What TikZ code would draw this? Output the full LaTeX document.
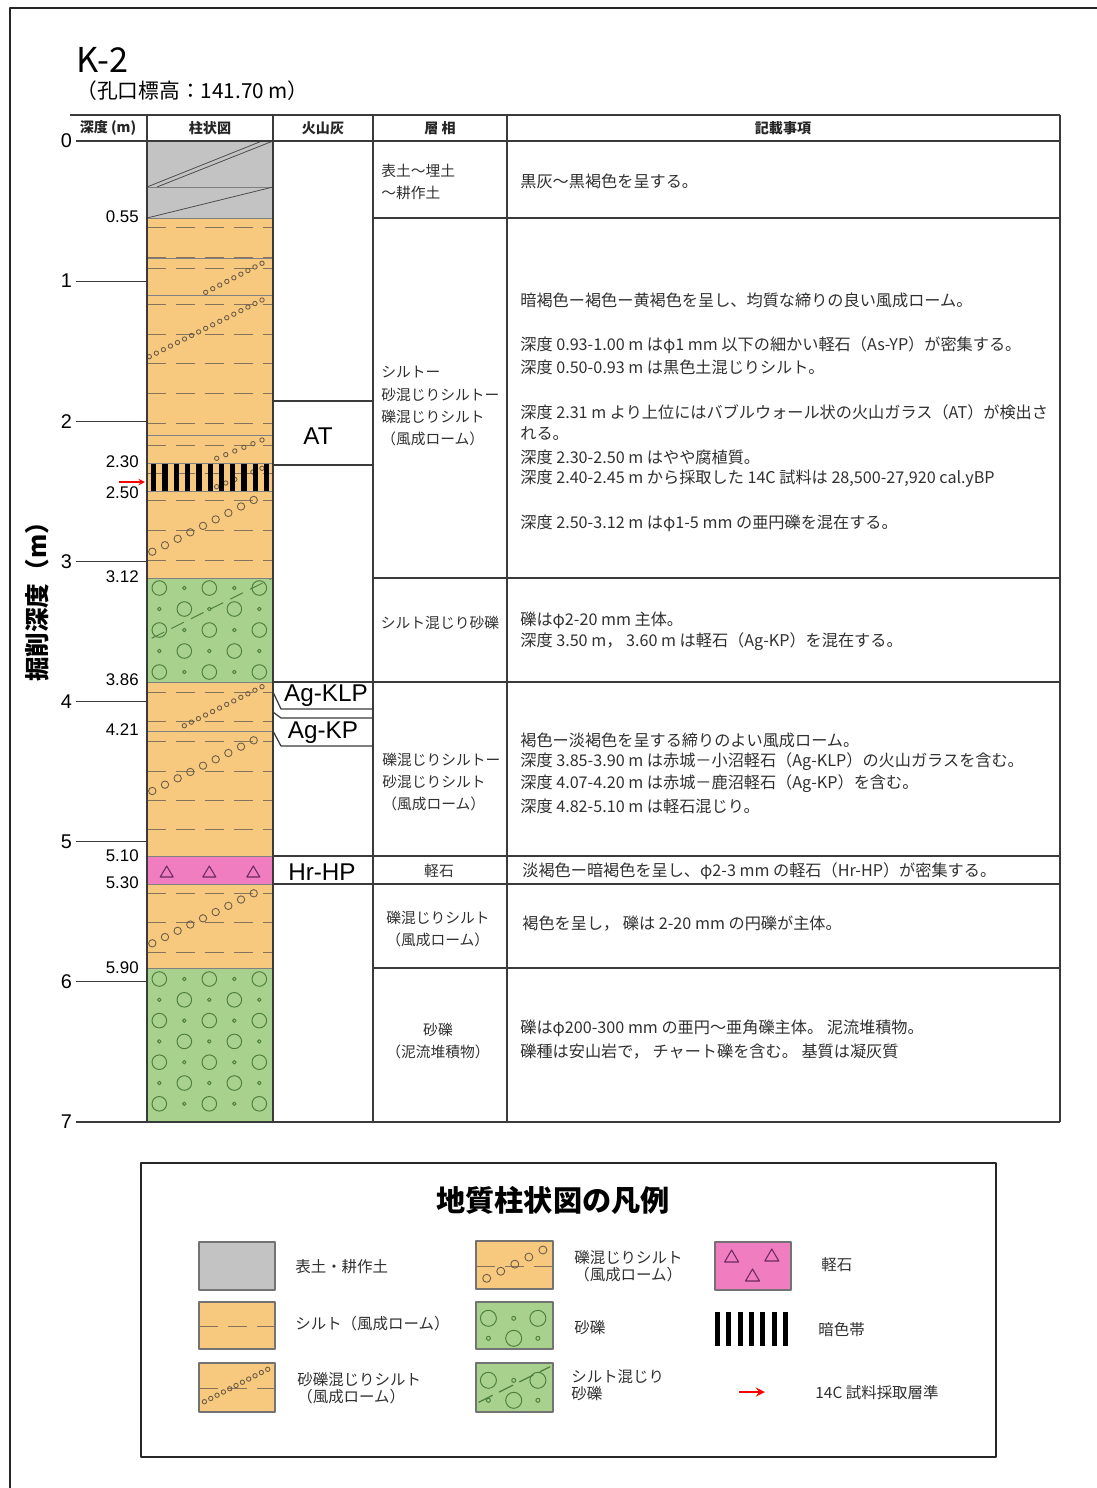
\documentclass[tikz,border=0pt]{standalone}
\usepackage{fontspec}
\setmainfont{Noto Sans CJK JP}
\newfontfamily\arialfont{Liberation Sans}

\definecolor{soilgray}{HTML}{C3C3C3}
\definecolor{loamfill}{HTML}{F7C97E}
\definecolor{gravelfill}{HTML}{A9D18E}
\definecolor{pumicefill}{HTML}{F07DC0}
\definecolor{dashbrown}{HTML}{86735B}
\definecolor{pebblec}{HTML}{6E5C48}
\definecolor{gravelc}{HTML}{4C7F3E}
\definecolor{pumicec}{HTML}{6B2A63}
\definecolor{rulec}{HTML}{3A3A3A}
\definecolor{txtc}{HTML}{303030}

\tikzset{
  rule/.style={draw=rulec, line width=0.7pt},
  bound/.style={draw=black!50, line width=0.5pt},
  loamdash/.style={draw=dashbrown, line width=0.55pt, dash pattern=on 10.8pt off 5.7pt},
  pebble/.style={draw=pebblec, line width=0.5pt},
  stone/.style={draw=gravelc, line width=0.55pt},
  legbox/.style={draw=black!55, line width=0.8pt},
  head/.style={font=\bfseries\fontsize{8}{9}\selectfont, text=black!85},
  facies/.style={anchor=west, inner sep=0pt, text=txtc, font=\fontsize{8.4}{10}\selectfont},
  desc/.style={anchor=west, inner sep=0pt, text=txtc, font=\fontsize{9.2}{10}\selectfont},
  legtext/.style={anchor=west, inner sep=0pt, text=txtc, font=\fontsize{8.8}{10}\selectfont},
  depthlbl/.style={anchor=east, inner sep=0pt, font=\arialfont\fontsize{9.6}{10}\selectfont},
  ticklbl/.style={anchor=east, inner sep=0pt, font=\arialfont\fontsize{11.3}{12}\selectfont},
  tephra/.style={inner sep=0pt, font=\arialfont\fontsize{13.8}{14}\selectfont},
}

% string of pebbles: x1 y1 x2 y2 steps radius
\newcommand\pebblerow[6]{\foreach \i in {0,...,#5}
  \draw[pebble] ({#1+(#3-#1)*\i/#5},{#2+(#4-#2)*\i/#5}) circle[radius=#6];}
% gravel rows: first row y, last row index, row spacing
\newcommand\gravelrows[3]{\foreach \r in {0,...,#2}{
  \pgfmathsetmacro\gy{#1+#3*\r}
  \ifodd\r\relax \def\bigs{184.3,234.3}\def\smalls{159.3,209.3,259.3}
  \else \def\bigs{159.3,209.3,259.3}\def\smalls{184.3,234.3}\fi
  \foreach \gx in \bigs \draw[stone] (\gx,\gy) circle[radius=7.3];
  \foreach \gx in \smalls \draw[stone] (\gx,\gy) circle[radius=1.8];}}

\begin{document}
\begin{tikzpicture}[x=0.02cm, y=-0.02cm, >=stealth, line join=round]
\useasboundingbox (0,0) rectangle (1097,1488);
\draw[line width=1.2pt, draw=black!85] (10,1488) -- (10,8) -- (1097,8);

% title
\node[anchor=west, inner sep=0pt, font=\fontsize{19.5}{20}\selectfont] (bore) at (76,60) {K-2};
\node[anchor=west, inner sep=0pt, font=\fontsize{11.8}{12}\selectfont] (elev) at (76,91) {（孔口標高：141.70 m）};
\node[rotate=90, font=\bfseries\fontsize{14}{15}\selectfont] (ylab) at (37,596) {掘削深度（m）};

% layers of the column
\fill[soilgray] (147,141) rectangle (273,218);
\fill[loamfill] (147,218) rectangle (273,578);
\fill[gravelfill] (147,578) rectangle (273,682);
\fill[loamfill] (147,682) rectangle (273,856);
\fill[pumicefill] (147,856) rectangle (273,884);
\fill[loamfill] (147,884) rectangle (273,968);
\fill[gravelfill] (147,968) rectangle (273,1122);

\draw[bound] (147,187) -- (273,187);
\draw[draw=black!70, line width=0.45pt] (147,187) -- (262,141) (157,187) -- (273,141) (147,218) -- (273,187);

\foreach \y in {227,257,268,304,334,363,393,423,445,473,500,530,560,692,721,741,771,800,829,893,922,952}
  \draw[loamdash] (147,\y) -- (273,\y);

\pebblerow{205.7}{292.3}{262}{263.3}{8}{2.2}
\pebblerow{149.3}{356.7}{262}{300}{16}{2.2}
\pebblerow{216.7}{458.3}{262}{440}{5}{2.2}
\pebblerow{216.7}{486.7}{262}{468.3}{5}{2.2}
\pebblerow{152.3}{551.7}{253.7}{500}{8}{3.7}
\pebblerow{184.3}{725.7}{262}{686.7}{11}{2.2}
\pebblerow{152.3}{791}{253.7}{740.3}{8}{3.7}
\pebblerow{152.3}{943.3}{253.7}{893.3}{8}{3.7}

\gravelrows{588}{4}{21}
\draw[stone, dash pattern=on 8pt off 4.5pt] (151.7,638.3) -- (272,578.3);
\gravelrows{979}{6}{20.8}

\foreach \x in {166.7,209.3,253.3}
  \draw[draw=pumicec, line width=0.6pt] (\x-6.5,877) -- (\x,866) -- (\x+6.5,877) -- cycle;

\foreach \y in {218,258,295,435,463,491,578,682,731,856,884,968}
  \draw[bound] (147,\y) -- (273,\y);
% dark band
\foreach \i in {0,...,10} \fill (151+11.3*\i,463.5) rectangle ++(5.3,27);
\coordinate (smp0) at (119,482); \coordinate (smp1) at (145,482);
\draw[->, red, line width=0.7pt] (smp0) -- (smp1);

% table
\draw[rule] (70,115) -- (1060,115);
\draw[rule] (147,141) -- (1060,141);
\foreach \x in {147,273,373,507,1060} \draw[rule] (\x,115) -- (\x,1122);
\draw[rule] (147,1122) -- (1060,1122);
\foreach \y in {218,578,968} \draw[rule] (373,\y) -- (1060,\y);
\foreach \y in {682,856,884} \draw[rule] (273,\y) -- (1060,\y);
\foreach \y in {401,465} \draw[rule] (273,\y) -- (373,\y);

\node[head] (h1) at (108,128) {深度 (m)};
\node[head] (h2) at (210,128) {柱状図};
\node[head] (h3) at (323,128) {火山灰};
\node[head] (h4) at (440,128) {層 相};
\node[head] (h5) at (783,128) {記載事項};

% depth scale
\foreach \d in {0,...,7}
  \draw[rule] (76,{141+140.14*\d}) node[ticklbl, xshift=-2pt] (tick\d) {\d} -- (147,{141+140.14*\d});
\foreach \y/\t [count=\k] in {217/0.55,462/2.30,493/2.50,577/3.12,680/3.86,730/4.21,856/5.10,883/5.30,968/5.90}
  \node[depthlbl] (dl\k) at (139,\y) {\t};

% tephra
\node[tephra] (at) at (318,436) {AT};
\node[tephra] (klp) at (326,696) {Ag-KLP};
\node[tephra] (kp) at (323,733) {Ag-KP};
\node[tephra] (hp) at (322,872) {Hr-HP};
\draw[rule] (273,692) -- (281,709) -- (373,709);
\draw[rule] (273,712) -- (281,718) -- (373,718);
\draw[rule] (273,731) -- (281,746) -- (373,746);

% facies
\node[facies] (f1) at (381,171) {表土～埋土};
\node[facies] (f2) at (381,193) {～耕作土};
\node[facies] (f3) at (381,372) {シルトー};
\node[facies] (f4) at (381,395) {砂混じりシルトー};
\node[facies] (f5) at (381,417) {礫混じりシルト};
\node[facies] (f6) at (381,439) {（風成ローム）};
\node[facies, anchor=center] (f7) at (440,623) {シルト混じり砂礫};
\node[facies] (f8) at (382,760) {礫混じりシルトー};
\node[facies] (f9) at (382,782) {砂混じりシルト};
\node[facies] (f10) at (382,804) {（風成ローム）};
\node[facies, anchor=center] (f11) at (439,871) {軽石};
\node[facies] (f12) at (386,918) {礫混じりシルト};
\node[facies] (f13) at (386,940) {（風成ローム）};
\node[facies, anchor=center] (f14) at (438,1030) {砂礫};
\node[facies, anchor=center] (f15) at (438,1052) {（泥流堆積物）};

% notes
\foreach \y/\t [count=\k] in {
  181/{黒灰～黒褐色を呈する。},
  300/{暗褐色ー褐色ー黄褐色を呈し、均質な締りの良い風成ローム。},
  345/{深度 0.93-1.00 m はφ1 mm 以下の細かい軽石（As-YP）が密集する。},
  367/{深度 0.50-0.93 m は黒色土混じりシルト。},
  412/{深度 2.31 m より上位にはバブルウォール状の火山ガラス（AT）が検出さ},
  434/{れる。},
  457/{深度 2.30-2.50 m はやや腐植質。},
  479/{深度 2.40-2.45 m から採取した 14C 試料は 28,500-27,920 cal.yBP},
  523/{深度 2.50-3.12 m はφ1-5 mm の亜円礫を混在する。},
  620/{礫はφ2-20 mm 主体。},
  642/{深度 3.50 m， 3.60 m は軽石（Ag-KP）を混在する。},
  740/{褐色ー淡褐色を呈する締りのよい風成ローム。},
  762/{深度 3.85-3.90 m は赤城－小沼軽石（Ag-KLP）の火山ガラスを含む。},
  784/{深度 4.07-4.20 m は赤城－鹿沼軽石（Ag-KP）を含む。},
  806/{深度 4.82-5.10 m は軽石混じり。},
  1028/{礫はφ200-300 mm の亜円～亜角礫主体。 泥流堆積物。},
  1052/{礫種は安山岩で， チャート礫を含む。 基質は凝灰質}}
  \node[desc] (n\k) at (520,\y) {\t};
\node[desc] (n18) at (522,871) {淡褐色ー暗褐色を呈し、φ2-3 mm の軽石（Hr-HP）が密集する。};
\node[desc] (n19) at (522,924) {褐色を呈し， 礫は 2-20 mm の円礫が主体。};

% legend
\draw[line width=1.4pt, draw=black!85] (141,1163) rectangle (996,1457);
\node[font=\bfseries\fontsize{16.6}{18}\selectfont] (lgtitle) at (553,1200) {地質柱状図の凡例};

\filldraw[legbox, fill=soilgray] (199,1242) rectangle (275,1290);
\filldraw[legbox, fill=loamfill] (199,1302) rectangle (275,1349);
\draw[loamdash] (199,1326) -- (275,1326);
\filldraw[legbox, fill=loamfill] (199,1363) rectangle (275,1412);
\draw[loamdash] (199,1388) -- (275,1388);
\pebblerow{204.4}{1401.7}{267.7}{1369.3}{10}{2.2}

\filldraw[legbox, fill=loamfill] (476,1241) rectangle (553,1289);
\draw[loamdash] (476,1266) -- (553,1266);
\pebblerow{486.7}{1278.3}{542.9}{1250}{4}{4}
\filldraw[legbox, fill=gravelfill] (476,1302) rectangle (553,1349);
\filldraw[legbox, fill=gravelfill] (476,1363) rectangle (553,1412);
\foreach \dy in {0,62} {
  \foreach \x/\y in {488.4/1318.3,537.9/1318.3,513.7/1338.3} \draw[stone] (\x,\y+\dy) circle[radius=8];
  \foreach \x/\y in {513.7/1318.3,488.4/1338.3,537.9/1338.3} \draw[stone] (\x,\y+\dy) circle[radius=2];
}
\draw[draw=gravelc, line width=0.7pt, dash pattern=on 9pt off 4pt] (478.5,1402.3) -- (550,1366.7);

\filldraw[legbox, fill=pumicefill] (715,1242) rectangle (791,1290);
\foreach \x/\y in {731.6/1256,771.8/1255,752.5/1275}
  \draw[draw=pumicec, line width=0.6pt] (\x-7,\y+6) -- (\x,\y-6) -- (\x+7,\y+6) -- cycle;
\foreach \i in {0,...,6} \fill (715+11.3*\i,1312) rectangle ++(5,34);
\coordinate (lg0) at (739,1392); \coordinate (lg1) at (765,1392);
\draw[->, red, line width=1.3pt] (lg0) -- (lg1);

\node[legtext] (l1) at (295,1267) {表土・耕作土};
\node[legtext] (l2) at (295,1324) {シルト（風成ローム）};
\node[legtext] (l3) at (297,1380) {砂礫混じりシルト};
\node[legtext] (l4) at (297,1397) {（風成ローム）};
\node[legtext] (l5) at (574,1258) {礫混じりシルト};
\node[legtext] (l6) at (574,1275) {（風成ローム）};
\node[legtext] (l7) at (574,1328) {砂礫};
\node[legtext] (l8) at (571,1377) {シルト混じり};
\node[legtext] (l9) at (571,1394) {砂礫};
\node[legtext] (l10) at (821,1265) {軽石};
\node[legtext] (l11) at (818,1330) {暗色帯};
\node[legtext] (l12) at (815,1393) {14C 試料採取層準};
\end{tikzpicture}
\end{document}
